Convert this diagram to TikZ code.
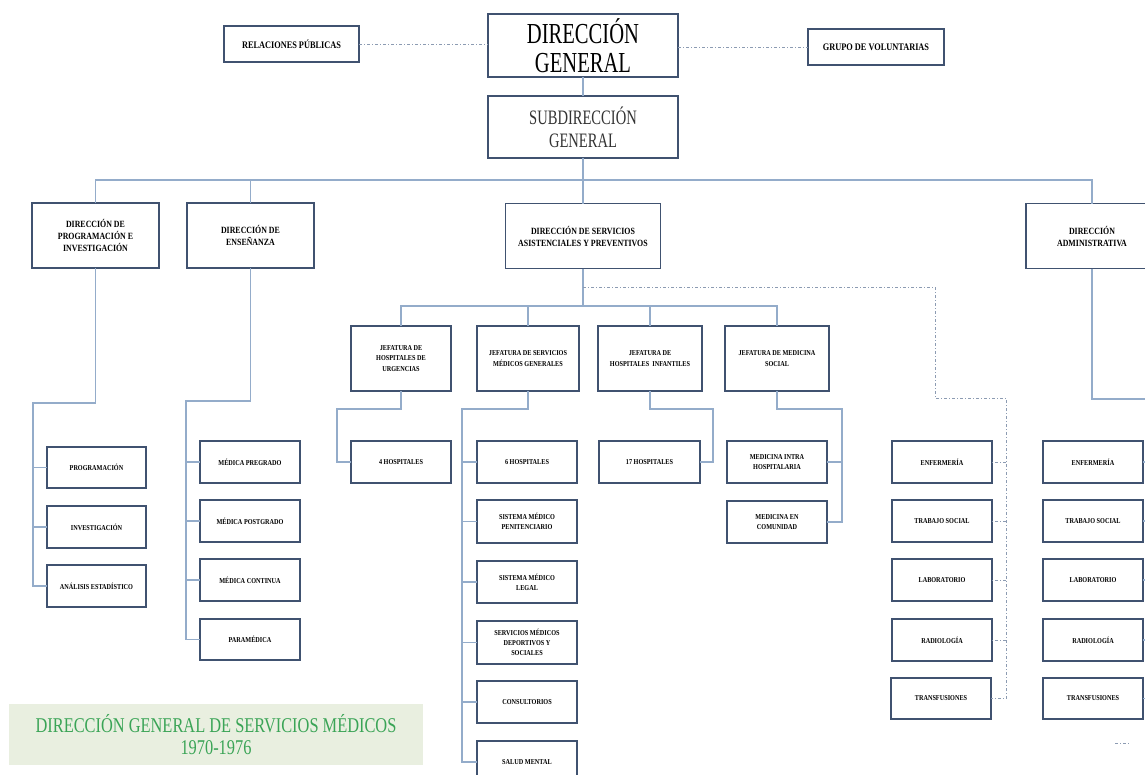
\documentclass[tikz,border=0pt]{standalone}
\usepackage{fontspec}
\setmainfont{Liberation Serif}
\newfontfamily\headfont{Liberation Serif}[FakeStretch=0.71]
\newfontfamily\titlefont{Liberation Serif}[FakeStretch=0.78]
\newfontfamily\boxfont{Liberation Serif}[FakeStretch=0.83]
\definecolor{boxc}{RGB}{64,82,112}
\definecolor{connc}{RGB}{148,172,202}
\definecolor{dotc}{RGB}{140,155,178}
\definecolor{titlebg}{RGB}{233,239,224}
\definecolor{titlefg}{RGB}{58,164,86}
\tikzset{
  orgbox/.style={draw=boxc, line width=1.6pt, fill=white, inner sep=1pt,
      outer sep=0pt, align=center, text=black},
  bigbox/.style={orgbox, font={\headfont\fontsize{29}{28.5}\selectfont}},
  subbox/.style={orgbox, text=black!80, font={\headfont\fontsize{20.5}{23}\selectfont}},
  sidebox/.style={orgbox, minimum height=36pt, font={\boxfont\bfseries\fontsize{10}{12}\selectfont}},
  dirbox/.style={orgbox, minimum height=65pt, font={\boxfont\bfseries\fontsize{9.5}{12}\selectfont}},
  jefbox/.style={orgbox, minimum height=65pt, font={\boxfont\bfseries\fontsize{7.5}{10.3}\selectfont}},
  leafbox/.style={orgbox, minimum width=100pt, minimum height=42pt, font={\boxfont\bfseries\fontsize{7.5}{10}\selectfont}},
  conn/.style={draw=connc, line width=1.2pt},
  dotconn/.style={draw=dotc, line width=0.9pt, dash pattern=on 3pt off 2pt on 1pt off 2pt},
}
\begin{document}
\begin{tikzpicture}[x=1pt, y=-1pt]
\useasboundingbox (0,0) rectangle (1145,774);
\clip (0,0) rectangle (1145,774);
\fill[white] (0,0) rectangle (1145,774);

% --- top levels
\node[bigbox, minimum width=190pt, minimum height=63pt] (dg) at (583,45.5) {DIRECCIÓN\\GENERAL};
\node[subbox, minimum width=190pt, minimum height=62pt] (sg) at (583,127) {SUBDIRECCIÓN\\GENERAL};
\node[sidebox, minimum width=135pt] (rp) at (291.5,44) {RELACIONES PÚBLICAS};
\node[sidebox, minimum width=136pt, minimum height=36pt] (gv) at (876,47) {GRUPO DE VOLUNTARIAS};

% --- directions
\node[dirbox, minimum width=127pt] (dpi) at (95.5,235.5) {DIRECCIÓN DE\\PROGRAMACIÓN E\\INVESTIGACIÓN};
\node[dirbox, minimum width=127pt] (de) at (250.5,235.5) {DIRECCIÓN DE\\ENSEÑANZA};
\node[dirbox, minimum width=155pt] (dsa) at (583,236) {DIRECCIÓN DE SERVICIOS\\ASISTENCIALES Y PREVENTIVOS};
\node[dirbox, minimum width=132pt] (da) at (1092,236) {DIRECCIÓN\\ADMINISTRATIVA};

% --- programación e investigación
\node[leafbox, minimum width=99pt, minimum height=41pt] (prog) at (96.5,467.5) {PROGRAMACIÓN};
\node[leafbox, minimum width=99pt] (inv) at (96.5,527) {INVESTIGACIÓN};
\node[leafbox, minimum width=99pt] (ana) at (96.5,586) {ANÁLISIS ESTADÍSTICO};

% --- enseñanza
\node[leafbox] (mpre) at (250,462) {MÉDICA PREGRADO};
\node[leafbox] (mpos) at (250,521) {MÉDICA POSTGRADO};
\node[leafbox] (mcon) at (250,580) {MÉDICA CONTINUA};
\node[leafbox, minimum height=41pt] (para) at (250,639.5) {PARAMÉDICA};

% --- jefaturas
\node[jefbox, minimum width=100pt] (urg) at (401,358.5) {JEFATURA DE\\HOSPITALES DE\\URGENCIAS};
\node[jefbox, minimum width=102pt] (smg) at (528,358.5) {JEFATURA DE SERVICIOS\\MÉDICOS GENERALES};
\node[jefbox, minimum width=104pt] (hi) at (650,358.5) {JEFATURA DE\\HOSPITALES\ \ INFANTILES};
\node[jefbox, minimum width=104pt] (ms) at (777,358.5) {JEFATURA DE MEDICINA\\SOCIAL};

\node[leafbox] (h4) at (401,462) {4 HOSPITALES};
\node[leafbox] (h6) at (527,462) {6 HOSPITALES};
\node[leafbox, minimum height=43pt] (pen) at (527,521.5) {SISTEMA MÉDICO\\PENITENCIARIO};
\node[leafbox] (leg) at (527,582) {SISTEMA MÉDICO\\LEGAL};
\node[leafbox, minimum height=43pt] (dep) at (527,642.5) {SERVICIOS MÉDICOS\\DEPORTIVOS Y\\SOCIALES};
\node[leafbox] (cons) at (527,702) {CONSULTORIOS};
\node[leafbox] (salud) at (527,762) {SALUD MENTAL};
\node[leafbox, minimum width=101pt] (h17) at (649.5,462) {17 HOSPITALES};
\node[leafbox] (intra) at (777,462) {MEDICINA INTRA\\HOSPITALARIA};
\node[leafbox] (com) at (777,522) {MEDICINA EN\\COMUNIDAD};

% --- service units (two columns)
\node[leafbox] (enf1) at (942,462) {ENFERMERÍA};
\node[leafbox] (ts1) at (942,521) {TRABAJO SOCIAL};
\node[leafbox] (lab1) at (942,580) {LABORATORIO};
\node[leafbox] (rad1) at (942,640) {RADIOLOGÍA};
\node[leafbox, minimum height=41pt] (tr1) at (941,698.5) {TRANSFUSIONES};
\node[leafbox] (enf2) at (1093,462) {ENFERMERÍA};
\node[leafbox] (ts2) at (1093,521) {TRABAJO SOCIAL};
\node[leafbox] (lab2) at (1093,580) {LABORATORIO};
\node[leafbox] (rad2) at (1093,640) {RADIOLOGÍA};
\node[leafbox, minimum height=41pt] (tr2) at (1093,698.5) {TRANSFUSIONES};

% --- title panel
\node[fill=titlebg, inner sep=0pt, minimum width=414pt, minimum height=61pt, align=center,
      text=titlefg, font={\titlefont\fontsize{21}{22}\selectfont}] (title) at (216,734.5)
      {DIRECCIÓN GENERAL DE SERVICIOS MÉDICOS\\1970-1976};

% --- junction points
\coordinate (bus) at (583,180);
\coordinate (dpiJ) at (33,403);
\coordinate (deJ) at (186,401);
\coordinate (dsaB) at (583,306);
\coordinate (dsaD) at (583,287);
\coordinate (urgJ) at (337,409);
\coordinate (smgJ) at (462,409);
\coordinate (hiJ) at (713,409);
\coordinate (msJ) at (842,409);
\coordinate (dk1) at (935,287);
\coordinate (dk2) at (1006,398);
\coordinate (daJ) at (1152,399);
\coordinate (frA) at (1115,743);
\coordinate (frB) at (1129,743);

% --- staff links
\draw[dotconn] (rp.east) -- (rp.east -| dg.west);
\draw[dotconn] (dg.east |- gv.west) -- (gv.west);

% --- main hierarchy
\draw[conn] (dg.south) -- (sg.north);
\draw[conn] (sg.south) -- (bus);
\draw[conn] (dpi.north) |- (bus) -| (da.north);
\draw[conn] (bus) -| (de.north);
\draw[conn] (bus) -- (dsa.north);

% programación e investigación
\draw[conn] (dpi.south) |- (dpiJ) |- (ana.west);
\draw[conn] (dpiJ |- prog.west) -- (prog.west);
\draw[conn] (dpiJ |- inv.west) -- (inv.west);

% enseñanza
\draw[conn] (de.south) |- (deJ) |- (para.west);
\draw[conn] (deJ |- mpre.west) -- (mpre.west);
\draw[conn] (deJ |- mpos.west) -- (mpos.west);
\draw[conn] (deJ |- mcon.west) -- (mcon.west);

% servicios asistenciales
\draw[conn] (dsa.south) -- (dsaB);
\draw[conn] (urg.north) |- (dsaB) -| (ms.north);
\draw[conn] (dsaB) -| (smg.north);
\draw[conn] (dsaB) -| (hi.north);

\draw[conn] (urg.south) |- (urgJ) |- (h4.west);
\draw[conn] (smg.south) |- (smgJ) |- (salud.west);
\foreach \n in {h6,pen,leg,dep,cons}
  \draw[conn] (smgJ |- \n.west) -- (\n.west);
\draw[conn] (hi.south) |- (hiJ) |- (h17.east);
\draw[conn] (ms.south) |- (msJ) |- (com.east);
\draw[conn] (msJ |- intra.east) -- (intra.east);

% functional link to service units
\draw[dotconn] (dsaD) -- (dk1) |- (dk2) |- (tr1.east);
\foreach \n in {enf1,ts1,lab1,rad1}
  \draw[dotconn] (dk2 |- \n.east) -- (\n.east);
\draw[dotconn] (frA) -- (frB);

% administrativa
\draw[conn] (da.south) |- (daJ) |- (tr2.east);
\foreach \n in {enf2,ts2,lab2,rad2}
  \draw[conn] (daJ |- \n.east) -- (\n.east);
\end{tikzpicture}
\end{document}
